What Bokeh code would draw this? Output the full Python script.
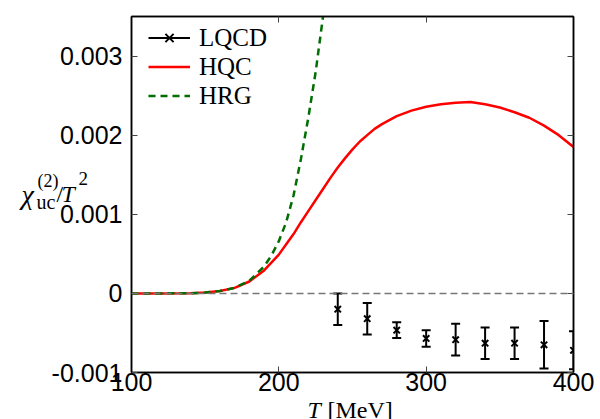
from bokeh.plotting import figure
from bokeh.models import (Legend, LegendItem, FixedTicker, LinearAxis, Span)
from bokeh.core.properties import value
from bokeh.embed import file_html
from bokeh.resources import INLINE

# Lattice QCD points: temperature [MeV], chi_uc / T^2 and its error
lqcd_T = [240, 260, 280, 300, 320, 340, 360, 380, 400]
lqcd_val = [-0.00020, -0.00032, -0.000465, -0.00057, -0.000585, -0.00063, -0.00063, -0.00065, -0.00072]
lqcd_err = [0.00020, 0.00020, 0.00010, 0.000105, 0.00020, 0.00020, 0.00020, 0.00030, 0.00024]

# HQC model curve
hqc_T = [100, 120, 140, 150, 160, 170, 180, 190, 200, 205, 210, 215, 220, 225, 230,
         235, 240, 245, 250, 255, 260, 265, 270, 275, 280, 290, 300, 310, 320, 330,
         340, 350, 360, 370, 380, 390, 400]
hqc_val = [0.0, 0.0, 0.000002, 0.00001, 0.00003, 0.00007, 0.00015, 0.00029, 0.00049,
           0.00062, 0.00075, 0.00090, 0.00104, 0.00118, 0.00132, 0.00146, 0.00159,
           0.00171, 0.00182, 0.00192, 0.00200, 0.00208, 0.00214, 0.00219, 0.00224,
           0.00231, 0.00236, 0.00239, 0.00241, 0.00242, 0.00239, 0.00235, 0.00229,
           0.00222, 0.00212, 0.00200, 0.00185]

# Hadron resonance gas curve
hrg_T = [100, 120, 140, 150, 160, 170, 180, 190, 195, 200, 205, 210, 215, 220, 225, 230, 235]
hrg_val = [0.0, 0.0, 0.000002, 0.00001, 0.00003, 0.00007, 0.00016, 0.00034, 0.00048,
           0.00066, 0.00090, 0.00124, 0.00170, 0.00222, 0.00280, 0.00350, 0.00430]

x_ticks = [100, 200, 300, 400]
y_ticks = [-0.001, 0.0, 0.001, 0.002, 0.003]
y_tick_labels = ["-0.001", "0", "0.001", "0.002", "0.003"]

SANS = "Liberation Sans"
SERIF = "Liberation Serif"

X0, X1 = 100, 400
Y0, Y1 = -0.001, 0.0035
# frame geometry in canvas pixels
FL, FR, FT, FB = 131, 573, 16, 372

p = figure(width=600, height=419, x_range=(X0, X1), y_range=(Y0, Y1),
           output_backend="svg", toolbar_location=None,
           min_border_left=FL, min_border_right=600 - FR, min_border_top=FT,
           min_border_bottom=419 - FB)
p.xgrid.visible = False
p.ygrid.visible = False
p.outline_line_color = "black"
p.outline_line_width = 1.5
p.background_fill_color = "white"
p.border_fill_color = "white"

for ax in (p.xaxis[0], p.yaxis[0]):
    ax.major_tick_in = 6
    ax.major_tick_out = 0
    ax.minor_tick_in = 0
    ax.minor_tick_out = 0
    ax.axis_line_width = 1.5
    ax.major_tick_line_color = "#444444"
    ax.major_label_text_font = SANS
    ax.major_label_text_font_size = "25px"
    ax.major_label_text_color = "black"

p.xaxis[0].ticker = FixedTicker(ticks=x_ticks)
p.xaxis[0].major_label_standoff = 0
p.yaxis[0].ticker = FixedTicker(ticks=y_ticks)
p.yaxis[0].major_label_overrides = {v: s for v, s in zip(y_ticks, y_tick_labels)}
p.yaxis[0].major_label_standoff = 9

# mirrored tick marks on the top and right edges
top = LinearAxis(ticker=FixedTicker(ticks=x_ticks), major_tick_in=6, major_tick_out=0,
                 minor_tick_in=0, minor_tick_out=0, major_label_text_font_size="0px",
                 major_tick_line_color="#444444", axis_line_width=1.5)
right = LinearAxis(ticker=FixedTicker(ticks=y_ticks), major_tick_in=6, major_tick_out=0,
                   minor_tick_in=0, minor_tick_out=0, major_label_text_font_size="0px",
                   major_tick_line_color="#444444", axis_line_width=1.5)
p.add_layout(top, "above")
p.add_layout(right, "right")

# zero reference line
p.add_layout(Span(location=0, dimension="width", line_color="#777777",
                  line_width=1.5, line_dash="7 4"))

hqc = p.line(hqc_T, hqc_val, line_color="red", line_width=2.5)
hrg = p.line(hrg_T, hrg_val, line_color="#006e00", line_width=2.5, line_dash="7 5")

lo = [v - e for v, e in zip(lqcd_val, lqcd_err)]
hi = [v + e for v, e in zip(lqcd_val, lqcd_err)]
bars = p.segment(x0=lqcd_T, y0=lo, x1=lqcd_T, y1=hi, line_color="black", line_width=2)
p.scatter(lqcd_T, lo, marker="dash", size=9, line_color="black", line_width=2)
p.scatter(lqcd_T, hi, marker="dash", size=9, line_color="black", line_width=2)
pts = p.scatter(lqcd_T, lqcd_val, marker="x", size=9, line_color="black", line_width=2)

legend = Legend(items=[LegendItem(label="LQCD", renderers=[bars, pts]),
                       LegendItem(label="HQC", renderers=[hqc]),
                       LegendItem(label="HRG", renderers=[hrg])],
                location=(17, 262), margin=0, padding=0, spacing=0,
                glyph_width=42, glyph_height=29, label_height=29, label_standoff=9,
                label_text_font=SERIF, label_text_font_size="25px", label_text_color="black",
                border_line_color=None, background_fill_alpha=0)
p.add_layout(legend, "center")


# axis titles: drawn on the overlay level so they may sit outside the frame
def txt(px, py, s, size, style="normal"):
    x = X0 + (px - FL) * (X1 - X0) / (FR - FL)
    y = Y0 + (FB - py) * (Y1 - Y0) / (FB - FT)
    r = p.text(x=[x], y=[y], text=[s], text_font=value(SERIF), text_font_size=size,
               text_font_style=style, text_color="black",
               text_baseline="alphabetic", text_align="left")
    r.level = "overlay"


# y title: chi_uc^(2) / T^2
txt(21, 194, "χ", "28px", "italic")
txt(36, 201, "uc", "20px")
txt(37, 180, "(2)", "18px")
txt(56, 193, "/", "24px")
txt(61, 193, "T", "24px", "italic")
txt(78, 178, "2", "19px")

# x title: T [MeV]
txt(307, 409, "T", "24px", "italic")
txt(327, 409, "[MeV]", "24px")

open("out.html", "w").write(file_html(p, INLINE))
